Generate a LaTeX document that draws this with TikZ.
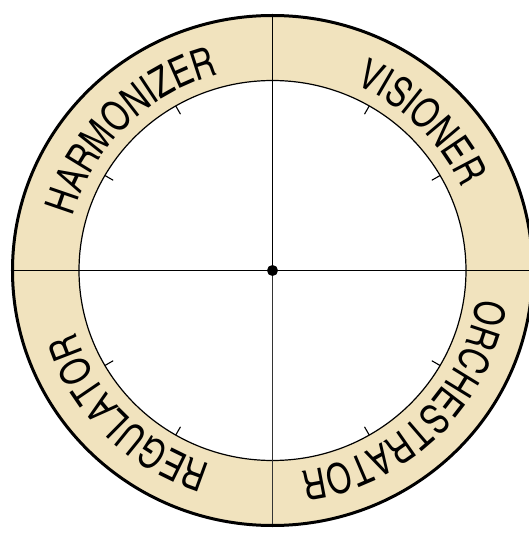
\documentclass[tikz,border=0pt]{standalone}
\usepackage{fontspec}
\newfontfamily\condfont[FakeStretch=0.92]{TeX Gyre Heros Cn}
\newcommand\ringfont{\condfont\fontsize{42}{43}\selectfont}
\usetikzlibrary{decorations.text}
\definecolor{ringtan}{RGB}{241,227,190}
\begin{document}
\begin{tikzpicture}[x=1pt,y=1pt,
  ringtext/.style={decorate,decoration={text along path,text align=center,text={|\ringfont|#1}}},
  tickline/.style={line width=1.1pt}]
\useasboundingbox (-272.5,-265.5) rectangle (255.5,270.5);
\fill[ringtan] (0,0) ellipse[x radius=260,y radius=255];
\fill[white] (0,0) ellipse[x radius=193.5,y radius=190];
\draw[line width=1.2pt] (0,0) ellipse[x radius=193.5,y radius=190];
\draw[line width=1.6pt] (-260,0) -- (260,0);
\draw[line width=1.6pt] (0,255) -- (0,0);
\draw[line width=1.1pt,black!80] (0,0) -- (0,-255);
\foreach \a in {30,60,120,150,210,240,300,330}
  \draw[tickline] ({193.5*cos(\a)},{190*sin(\a)}) -- ({184*cos(\a)},{180.5*sin(\a)});
\draw[line width=3pt] (0,0) ellipse[x radius=260,y radius=255];
\fill (0,0) circle (5.5);
\path[ringtext=HARMONIZER] (180:207 and 203) arc[start angle=180,end angle=90,x radius=207,y radius=203];
\path[ringtext=VISIONER] (90:207 and 203) arc[start angle=90,end angle=0,x radius=207,y radius=203];
\path[ringtext=ORCHESTRATOR] (0:207 and 203) arc[start angle=0,end angle=-90,x radius=207,y radius=203];
\path[ringtext=REGULATOR] (270:207 and 203) arc[start angle=270,end angle=180,x radius=207,y radius=203];
\end{tikzpicture}
\end{document}
